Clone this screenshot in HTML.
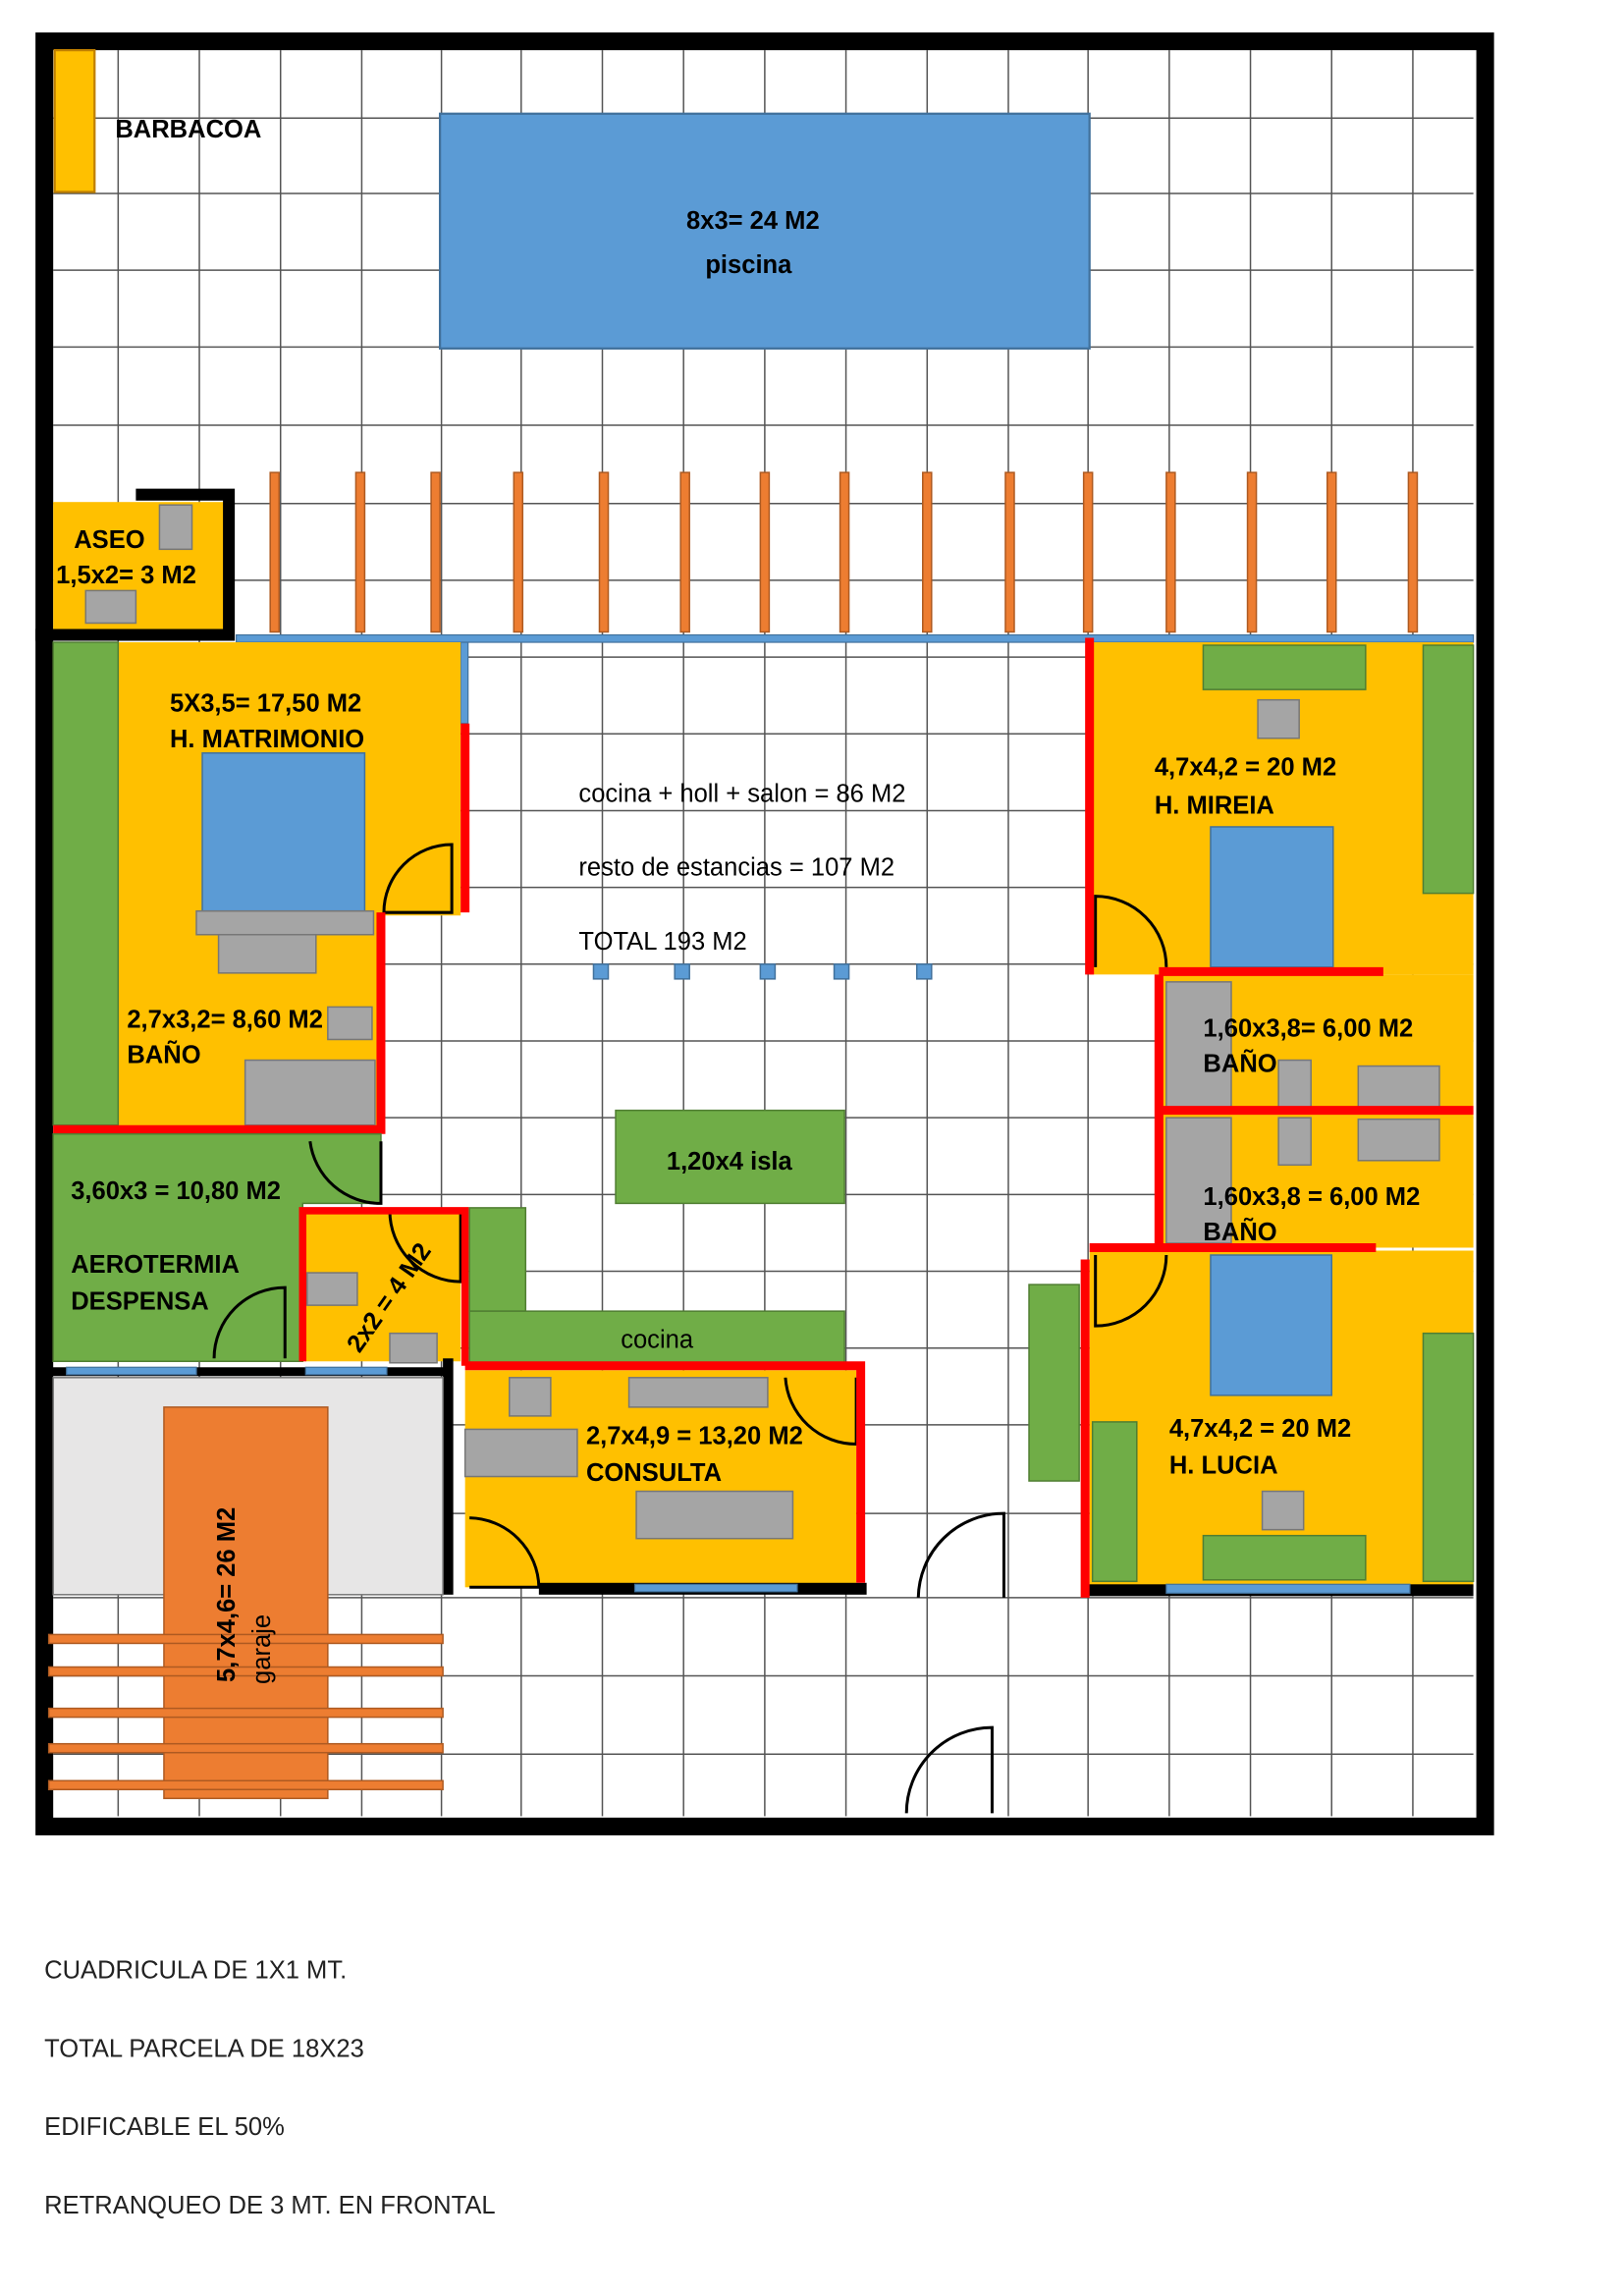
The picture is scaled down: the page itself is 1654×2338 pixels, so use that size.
<!DOCTYPE html>
<html><head><meta charset="utf-8"><style>
html,body{margin:0;padding:0;background:#fff;}
svg{display:block;}
text{font-family:"Liberation Sans",sans-serif;}
.b{font-weight:bold;font-size:17px;fill:#000;}
.n{font-size:17px;fill:#222;}
</style></head><body>
<svg width="1654" height="2338" viewBox="0 0 1100 1555" xmlns="http://www.w3.org/2000/svg">
<rect x="0" y="0" width="1100" height="1555" fill="#fff"/>
<!-- grid -->
<g stroke="#555" stroke-width="1">
<line x1="80" y1="34" x2="80" y2="1230"/><line x1="135" y1="34" x2="135" y2="1230"/><line x1="190" y1="34" x2="190" y2="1230"/><line x1="245" y1="34" x2="245" y2="1230"/><line x1="299" y1="34" x2="299" y2="1230"/><line x1="353" y1="34" x2="353" y2="1230"/><line x1="408" y1="34" x2="408" y2="1230"/><line x1="463" y1="34" x2="463" y2="1230"/><line x1="518" y1="34" x2="518" y2="1230"/><line x1="573" y1="34" x2="573" y2="1230"/><line x1="628" y1="34" x2="628" y2="1230"/><line x1="683" y1="34" x2="683" y2="1230"/><line x1="737" y1="34" x2="737" y2="1230"/><line x1="792" y1="34" x2="792" y2="1230"/><line x1="847" y1="34" x2="847" y2="1230"/><line x1="902" y1="34" x2="902" y2="1230"/><line x1="957" y1="34" x2="957" y2="1230"/>
<line x1="36" y1="80" x2="998" y2="80"/><line x1="36" y1="131" x2="998" y2="131"/><line x1="36" y1="183" x2="998" y2="183"/><line x1="36" y1="235" x2="998" y2="235"/><line x1="36" y1="288" x2="998" y2="288"/><line x1="36" y1="341" x2="998" y2="341"/><line x1="36" y1="393" x2="998" y2="393"/><line x1="36" y1="445" x2="998" y2="445"/><line x1="36" y1="497" x2="998" y2="497"/><line x1="36" y1="549" x2="998" y2="549"/><line x1="36" y1="601" x2="998" y2="601"/><line x1="36" y1="653" x2="998" y2="653"/><line x1="36" y1="705" x2="998" y2="705"/><line x1="36" y1="757" x2="998" y2="757"/><line x1="36" y1="809" x2="998" y2="809"/><line x1="36" y1="861" x2="998" y2="861"/><line x1="36" y1="913" x2="998" y2="913"/><line x1="36" y1="965" x2="998" y2="965"/><line x1="36" y1="1025" x2="998" y2="1025"/><line x1="36" y1="1082" x2="998" y2="1082"/><line x1="36" y1="1135" x2="998" y2="1135"/><line x1="36" y1="1188" x2="998" y2="1188"/>
</g>
<rect x="30" y="28" width="976" height="1209" fill="none" stroke="#000" stroke-width="12"/>
<!-- barbacoa / pool -->
<rect x="37" y="34" width="27" height="96" fill="#ffc000" stroke="#c08000" stroke-width="1.5"/>
<text x="78" y="93" class="b">BARBACOA</text>
<rect x="298" y="77" width="440" height="159" fill="#5b9bd5" stroke="#41719c" stroke-width="1.5"/>
<text x="510" y="155" class="b" text-anchor="middle">8x3= 24 M2</text>
<text x="507" y="185" class="b" text-anchor="middle">piscina</text>
<!-- aseo -->
<rect x="36" y="340" width="118" height="90" fill="#ffc000"/>
<rect x="108" y="342" width="22" height="30" fill="#a5a5a5" stroke="#777"/>
<rect x="58" y="400" width="34" height="22" fill="#a5a5a5" stroke="#777"/>
<path d="M92 335 H155 V430 H24" fill="none" stroke="#000" stroke-width="8"/>
<text x="50" y="371" class="b">ASEO</text>
<text x="38" y="395" class="b">1,5x2= 3 M2</text>
<!-- fence -->
<g fill="#ed7d31" stroke="#ae5a21" stroke-width="1">
<rect x="183" y="320" width="6" height="108"/><rect x="241" y="320" width="6" height="108"/><rect x="292" y="320" width="6" height="108"/><rect x="348" y="320" width="6" height="108"/><rect x="406" y="320" width="6" height="108"/><rect x="461" y="320" width="6" height="108"/><rect x="515" y="320" width="6" height="108"/><rect x="569" y="320" width="6" height="108"/><rect x="625" y="320" width="6" height="108"/><rect x="681" y="320" width="6" height="108"/><rect x="734" y="320" width="6" height="108"/><rect x="790" y="320" width="6" height="108"/><rect x="845" y="320" width="6" height="108"/><rect x="899" y="320" width="6" height="108"/><rect x="954" y="320" width="6" height="108"/>
</g>
<rect x="160" y="430" width="838" height="5" fill="#5b9bd5" stroke="#41719c" stroke-width="0.8"/>
<rect x="312" y="435" width="5" height="55" fill="#5b9bd5" stroke="#41719c" stroke-width="0.8"/>
<!-- matrimonio -->
<path d="M80 435 H312 V620 H258 V765 H80 Z" fill="#ffc000"/>
<rect x="36" y="435" width="44" height="327" fill="#70ad47" stroke="#507e32"/>
<rect x="137" y="510" width="110" height="108" fill="#5b9bd5" stroke="#41719c"/>
<rect x="133" y="617" width="120" height="16" fill="#a5a5a5" stroke="#777"/>
<rect x="148" y="633" width="66" height="26" fill="#a5a5a5" stroke="#777"/>
<rect x="222" y="682" width="30" height="22" fill="#a5a5a5" stroke="#777"/>
<rect x="166" y="718" width="88" height="44" fill="#a5a5a5" stroke="#777"/>
<path d="M306 618 L306 572 A46 46 0 0 0 260 618 Z" fill="none" stroke="#000" stroke-width="2"/>
<path d="M315 490 V618 M258 618 V765 H36" fill="none" stroke="#f00" stroke-width="6"/>
<text x="115" y="482" class="b">5X3,5= 17,50 M2</text>
<text x="115" y="506" class="b">H. MATRIMONIO</text>
<text x="86" y="696" class="b">2,7x3,2= 8,60 M2</text>
<text x="86" y="720" class="b">BAÑO</text>
<!-- central -->
<text x="392" y="543" class="b" style="font-weight:normal;fill:#000">cocina + holl + salon = 86  M2</text>
<text x="392" y="593" class="b" style="font-weight:normal">resto de estancias = 107 M2</text>
<text x="392" y="643" class="b" style="font-weight:normal">TOTAL 193 M2</text>
<g fill="#5b9bd5" stroke="#41719c"><rect x="402" y="653" width="10" height="10"/><rect x="457" y="653" width="10" height="10"/><rect x="515" y="653" width="10" height="10"/><rect x="565" y="653" width="10" height="10"/><rect x="621" y="653" width="10" height="10"/></g>
<rect x="417" y="752" width="155" height="63" fill="#70ad47" stroke="#507e32"/>
<text x="494" y="792" class="b" text-anchor="middle">1,20x4 isla</text>
<!-- mireia -->
<rect x="738" y="435" width="260" height="225" fill="#ffc000"/>
<rect x="815" y="437" width="110" height="30" fill="#70ad47" stroke="#507e32"/>
<rect x="852" y="474" width="28" height="26" fill="#a5a5a5" stroke="#777"/>
<rect x="964" y="437" width="34" height="168" fill="#70ad47" stroke="#507e32"/>
<rect x="820" y="560" width="83" height="95" fill="#5b9bd5" stroke="#41719c"/>
<path d="M742 655 L742 607 A48 48 0 0 1 790 655" fill="none" stroke="#000" stroke-width="2"/>
<text x="782" y="525" class="b">4,7x4,2 = 20 M2</text>
<text x="782" y="551" class="b">H. MIREIA</text>
<!-- baths right -->
<rect x="785" y="660" width="213" height="185" fill="#ffc000"/>
<g fill="#a5a5a5" stroke="#777"><rect x="790" y="665" width="44" height="85"/><rect x="866" y="718" width="22" height="32"/><rect x="920" y="722" width="55" height="28"/><rect x="790" y="757" width="44" height="85"/><rect x="866" y="757" width="22" height="32"/><rect x="920" y="758" width="55" height="28"/></g>
<text x="815" y="702" class="b">1,60x3,8= 6,00 M2</text>
<text x="815" y="726" class="b">BAÑO</text>
<text x="815" y="816" class="b">1,60x3,8 = 6,00 M2</text>
<text x="815" y="840" class="b">BAÑO</text>
<!-- lucia -->
<rect x="738" y="847" width="260" height="228" fill="#ffc000"/>
<rect x="697" y="870" width="34" height="133" fill="#70ad47" stroke="#507e32"/>
<rect x="740" y="963" width="30" height="108" fill="#70ad47" stroke="#507e32"/>
<rect x="964" y="903" width="34" height="168" fill="#70ad47" stroke="#507e32"/>
<rect x="820" y="850" width="82" height="95" fill="#5b9bd5" stroke="#41719c"/>
<rect x="855" y="1010" width="28" height="26" fill="#a5a5a5" stroke="#777"/>
<rect x="815" y="1040" width="110" height="30" fill="#70ad47" stroke="#507e32"/>
<path d="M742 850 L742 898 A48 48 0 0 0 790 850" fill="none" stroke="#000" stroke-width="2"/>
<text x="792" y="973" class="b">4,7x4,2 = 20 M2</text>
<text x="792" y="998" class="b">H. LUCIA</text>
<rect x="735" y="1073" width="263" height="8" fill="#000"/>
<rect x="790" y="1073" width="165" height="6" fill="#5b9bd5" stroke="#41719c" stroke-width="0.8"/>
<path d="M738 432 V660 M785 658 H937 M785 660 V845 M785 752 H998 M738 845 H932 M735 853 V1082" fill="none" stroke="#f00" stroke-width="6"/>
<!-- aerotermia -->
<path d="M36 768 H258 V815 H205 V922 H36 Z" fill="#70ad47" stroke="#507e32"/>
<path d="M210 773 A48 48 0 0 0 258 815 L258 773" fill="none" stroke="#000" stroke-width="2"/>
<path d="M145 920 A48 48 0 0 1 193 872 L193 920" fill="none" stroke="#000" stroke-width="2"/>
<text x="48" y="812" class="b">3,60x3 = 10,80 M2</text>
<text x="48" y="862" class="b">AEROTERMIA</text>
<text x="48" y="887" class="b">DESPENSA</text>
<!-- 2x2 -->
<rect x="205" y="820" width="107" height="102" fill="#ffc000"/>
<rect x="208" y="862" width="34" height="22" fill="#a5a5a5" stroke="#777"/>
<rect x="264" y="903" width="32" height="20" fill="#a5a5a5" stroke="#777"/>
<path d="M264 820 A48 48 0 0 0 312 868 L312 820" fill="none" stroke="#000" stroke-width="2"/>
<path d="M205 922 V820 H315 V925" fill="none" stroke="#f00" stroke-width="5"/>
<text x="268" y="882" class="b" text-anchor="middle" transform="rotate(-55 268 882)">2x2 = 4 M2</text>
<!-- cocina -->
<rect x="318" y="818" width="38" height="70" fill="#70ad47" stroke="#507e32"/>
<rect x="318" y="888" width="254" height="38" fill="#70ad47" stroke="#507e32"/>
<text x="445" y="913" class="b" style="font-weight:normal" text-anchor="middle">cocina</text>
<!-- consulta -->
<rect x="315" y="928" width="265" height="147" fill="#ffc000"/>
<g fill="#a5a5a5" stroke="#777"><rect x="345" y="933" width="28" height="26"/><rect x="426" y="933" width="94" height="20"/><rect x="315" y="968" width="76" height="32"/><rect x="431" y="1010" width="106" height="32"/></g>
<path d="M532 933 A48 48 0 0 0 580 978 L580 933" fill="none" stroke="#000" stroke-width="2"/>
<path d="M318 1028 A48 48 0 0 1 365 1075 L318 1075" fill="none" stroke="#000" stroke-width="2"/>
<text x="397" y="978" class="b">2,7x4,9 = 13,20 M2</text>
<text x="397" y="1003" class="b">CONSULTA</text>
<rect x="365" y="1072" width="222" height="8" fill="#000"/>
<rect x="430" y="1073" width="110" height="5" fill="#5b9bd5" stroke="#41719c" stroke-width="0.8"/>
<path d="M315 925 H583 V1072" fill="none" stroke="#f00" stroke-width="6"/>
<rect x="300" y="920" width="7" height="160" fill="#000"/>
<!-- garage -->
<rect x="36" y="933" width="264" height="147" fill="#e7e6e6" stroke="#777"/>
<rect x="33" y="926" width="272" height="6" fill="#000"/>
<rect x="45" y="926" width="88" height="5" fill="#5b9bd5" stroke="#41719c" stroke-width="0.8"/>
<rect x="207" y="926" width="55" height="5" fill="#5b9bd5" stroke="#41719c" stroke-width="0.8"/>
<rect x="111" y="953" width="111" height="265" fill="#ed7d31" stroke="#ae5a21"/>
<g fill="#ed7d31" stroke="#ae5a21"><rect x="33" y="1107" width="267" height="6"/><rect x="33" y="1129" width="267" height="6"/><rect x="33" y="1157" width="267" height="6"/><rect x="33" y="1181" width="267" height="6"/><rect x="33" y="1206" width="267" height="6"/></g>
<text x="159" y="1080" class="b" text-anchor="middle" transform="rotate(-90 159 1080)">5,7x4,6= 26 M2</text>
<text x="183" y="1117" class="b" style="font-weight:normal" text-anchor="middle" transform="rotate(-90 183 1117)">garaje</text>
<!-- front doors -->
<path d="M622 1082 A58 58 0 0 1 680 1025 L680 1082" fill="none" stroke="#000" stroke-width="2"/>
<path d="M614 1228 A58 58 0 0 1 672 1170 L672 1228" fill="none" stroke="#000" stroke-width="2"/>
<!-- notes -->
<text x="30" y="1340" class="n">CUADRICULA DE 1X1 MT.</text>
<text x="30" y="1393" class="n">TOTAL PARCELA DE 18X23</text>
<text x="30" y="1446" class="n">EDIFICABLE EL 50%</text>
<text x="30" y="1499" class="n">RETRANQUEO DE 3 MT. EN FRONTAL</text>
</svg>
</body></html>
